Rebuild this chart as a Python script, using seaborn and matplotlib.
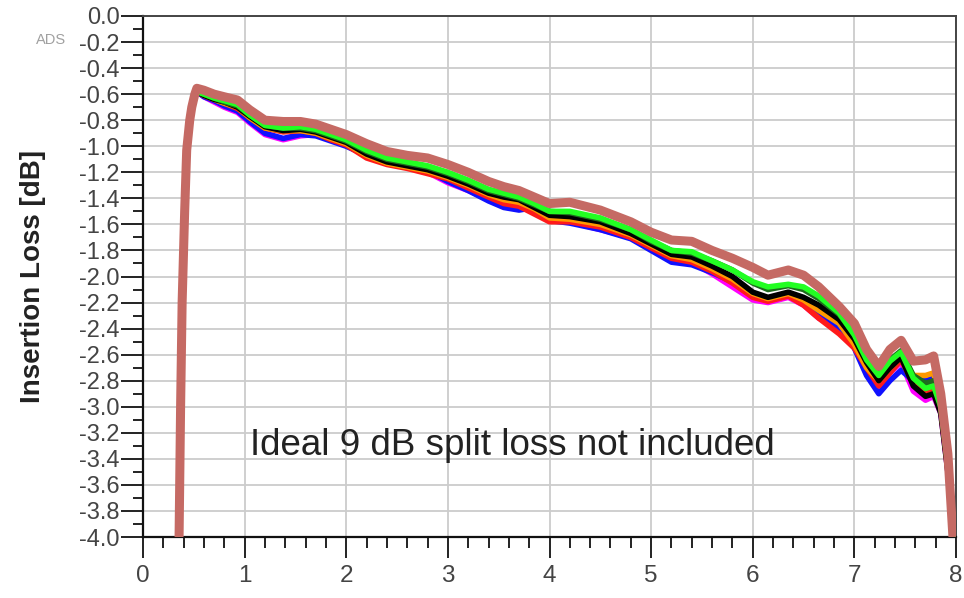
import numpy as np
import pandas as pd
import matplotlib
matplotlib.use("Agg")
import matplotlib.pyplot as plt
import seaborn as sns
from matplotlib.ticker import MultipleLocator, FixedLocator

# ---------------- data ----------------
freq = [0.355, 0.37, 0.385, 0.41, 0.43, 0.46, 0.48, 0.51, 0.53,
        0.60, 0.70, 0.80, 0.93, 1.05, 1.20, 1.38, 1.55, 1.70, 1.85, 2.00,
        2.20, 2.40, 2.60, 2.80, 3.00, 3.20, 3.40, 3.55, 3.70, 3.85,
        4.00, 4.20, 4.50, 4.80, 5.00, 5.20, 5.40, 5.60, 5.80, 6.00,
        6.15, 6.35, 6.50, 6.65, 6.85, 7.00, 7.12, 7.24, 7.35, 7.46,
        7.58, 7.70, 7.78, 7.85, 7.92, 7.97]

rise = [-4.00, -3.05, -2.25, -1.55, -1.06, -0.83, -0.72, -0.62, -0.58]

magenta = rise + [-0.62, -0.66, -0.70, -0.74, -0.82, -0.91, -0.95, -0.92, -0.91, -0.95, -0.99,
                  -1.07, -1.12, -1.16, -1.20, -1.28, -1.34, -1.41, -1.46, -1.48, -1.46,
                  -1.56, -1.58, -1.64, -1.70, -1.79, -1.88, -1.89, -1.98, -2.08, -2.18,
                  -2.20, -2.16, -2.22, -2.32, -2.40, -2.54, -2.74, -2.86, -2.74, -2.66,
                  -2.88, -2.95, -2.92, -3.05, -3.50, -4.00]
blue = rise + [-0.62, -0.65, -0.69, -0.73, -0.81, -0.90, -0.94, -0.91, -0.92, -0.96, -1.00,
               -1.07, -1.12, -1.15, -1.19, -1.27, -1.34, -1.42, -1.47, -1.49, -1.47,
               -1.57, -1.59, -1.64, -1.71, -1.80, -1.89, -1.91, -1.97, -2.04, -2.15,
               -2.18, -2.14, -2.20, -2.30, -2.40, -2.55, -2.76, -2.90, -2.80, -2.72,
               -2.80, -2.80, -2.78, -2.98, -3.45, -4.00]
red = rise + [-0.61, -0.64, -0.67, -0.71, -0.78, -0.86, -0.89, -0.88, -0.90, -0.95, -0.99,
              -1.09, -1.14, -1.17, -1.21, -1.25, -1.32, -1.39, -1.44, -1.46, -1.52,
              -1.58, -1.58, -1.62, -1.70, -1.78, -1.86, -1.89, -1.96, -2.05, -2.16,
              -2.19, -2.15, -2.22, -2.32, -2.44, -2.55, -2.70, -2.84, -2.74, -2.64,
              -2.82, -2.88, -2.86, -3.02, -3.48, -4.00]
orange = rise + [-0.61, -0.64, -0.67, -0.70, -0.78, -0.86, -0.88, -0.88, -0.90, -0.94, -0.98,
                 -1.07, -1.13, -1.16, -1.19, -1.24, -1.30, -1.37, -1.41, -1.43, -1.48,
                 -1.55, -1.56, -1.60, -1.68, -1.76, -1.84, -1.87, -1.94, -2.02, -2.13,
                 -2.17, -2.13, -2.18, -2.26, -2.36, -2.52, -2.70, -2.80, -2.70, -2.62,
                 -2.76, -2.76, -2.74, -2.98, -3.48, -4.00]
black = rise + [-0.61, -0.64, -0.66, -0.70, -0.77, -0.85, -0.88, -0.87, -0.89, -0.93, -0.97,
                -1.06, -1.12, -1.15, -1.18, -1.23, -1.29, -1.36, -1.39, -1.41, -1.47,
                -1.53, -1.54, -1.58, -1.67, -1.75, -1.83, -1.85, -1.92, -2.00, -2.12,
                -2.16, -2.12, -2.16, -2.22, -2.33, -2.48, -2.66, -2.80, -2.70, -2.62,
                -2.84, -2.92, -2.90, -3.05, -3.50, -4.00]
darkgreen = rise + [-0.60, -0.63, -0.66, -0.69, -0.76, -0.84, -0.86, -0.86, -0.88, -0.92, -0.96,
                    -1.04, -1.10, -1.13, -1.16, -1.21, -1.27, -1.34, -1.37, -1.40, -1.45,
                    -1.50, -1.51, -1.56, -1.64, -1.73, -1.80, -1.82, -1.88, -1.95, -2.05,
                    -2.10, -2.07, -2.10, -2.17, -2.29, -2.44, -2.62, -2.74, -2.64, -2.57,
                    -2.76, -2.82, -2.80, -2.98, -3.45, -4.00]
green = rise + [-0.60, -0.63, -0.65, -0.68, -0.76, -0.84, -0.86, -0.85, -0.87, -0.91, -0.95,
                -1.03, -1.09, -1.12, -1.15, -1.20, -1.26, -1.33, -1.36, -1.39, -1.44,
                -1.50, -1.50, -1.55, -1.64, -1.72, -1.80, -1.81, -1.88, -1.95, -2.04,
                -2.08, -2.06, -2.08, -2.15, -2.28, -2.45, -2.64, -2.76, -2.65, -2.58,
                -2.78, -2.86, -2.84, -3.00, -3.45, -4.00]
brown = [-4.00, -3.00, -2.20, -1.50, -1.03, -0.80, -0.70, -0.60, -0.555,
         -0.57, -0.60, -0.62, -0.645, -0.72, -0.80, -0.81, -0.81, -0.83, -0.87, -0.91,
         -0.98, -1.04, -1.07, -1.09, -1.14, -1.20, -1.27, -1.31, -1.34, -1.39,
         -1.44, -1.43, -1.49, -1.58, -1.66, -1.72, -1.73, -1.80, -1.86, -1.93,
         -1.99, -1.95, -1.99, -2.08, -2.23, -2.36, -2.56, -2.69, -2.56, -2.49,
         -2.65, -2.64, -2.61, -2.90, -3.36, -4.00]

series_names = ["magenta", "blue", "red", "orange", "black", "darkgreen", "green", "brown"]
series_values = [magenta, blue, red, orange, black, darkgreen, green, brown]
series_colors = ["#FF00FF", "#1010FF", "#FF1A1A", "#FF9900", "#000000", "#1E6B1E", "#22FF22", "#C56A64"]
series_widths = [4.0, 4.0, 4.0, 4.0, 4.0, 4.0, 4.0, 6.5]

x_ticks = [0, 1, 2, 3, 4, 5, 6, 7, 8]
y_ticks = [0.0, -0.2, -0.4, -0.6, -0.8, -1.0, -1.2, -1.4, -1.6, -1.8, -2.0,
           -2.2, -2.4, -2.6, -2.8, -3.0, -3.2, -3.4, -3.6, -3.8, -4.0]
y_ticklabels = ["0.0", "-0.2", "-0.4", "-0.6", "-0.8", "-1.0", "-1.2", "-1.4", "-1.6",
                "-1.8", "-2.0", "-2.2", "-2.4", "-2.6", "-2.8", "-3.0", "-3.2", "-3.4",
                "-3.6", "-3.8", "-4.0"]
y_label = "Insertion Loss [dB]"
note = "Ideal 9 dB split loss not included"

# ---------------- plot ----------------
sns.set_theme(style="white")
plt.rcParams["font.family"] = ["Liberation Sans", "DejaVu Sans"]

fig = plt.figure(figsize=(9.64, 5.98), dpi=100)
ax = fig.add_axes([143 / 964, 1 - 537 / 598, (956 - 143) / 964, (537 - 16) / 598])

df = pd.concat([pd.DataFrame({"freq": freq, "loss": v, "trace": n})
                for n, v in zip(series_names, series_values)], ignore_index=True)

for n, c, w in zip(series_names, series_colors, series_widths):
    sub = df[df["trace"] == n]
    sns.lineplot(data=sub, x="freq", y="loss", color=c, linewidth=w,
                 estimator=None, sort=False, ax=ax, legend=False,
                 solid_joinstyle="round", solid_capstyle="butt", zorder=3)

ax.set_xlim(0, 8)
ax.set_ylim(-4.0, 0.0)
ax.xaxis.set_major_locator(FixedLocator(x_ticks))
ax.xaxis.set_minor_locator(MultipleLocator(0.2))
ax.yaxis.set_major_locator(FixedLocator(y_ticks))
ax.set_yticklabels(y_ticklabels)
ax.yaxis.set_minor_locator(MultipleLocator(0.1))

ax.grid(True, which="major", color="#cccccc", linewidth=1.3, zorder=0)
ax.set_axisbelow(True)

for side in ["left", "bottom"]:
    ax.spines[side].set_color("#111111")
    ax.spines[side].set_linewidth(1.6)
for side in ["top", "right"]:
    ax.spines[side].set_color("#444444")
    ax.spines[side].set_linewidth(1.4)

ax.tick_params(axis="y", which="major", direction="out", length=16, width=1.4,
               color="#222222", pad=1, labelsize=17, labelcolor="#444444", left=True)
ax.tick_params(axis="y", which="minor", direction="out", length=7, width=1.4,
               color="#222222", left=True)
ax.tick_params(axis="x", which="major", direction="out", length=15, width=1.4,
               color="#222222", pad=5, labelsize=17.5, labelcolor="#444444", bottom=True)
ax.tick_params(axis="x", which="minor", direction="out", length=8, width=1.4,
               color="#222222", bottom=True)

ax.set_xlabel("")
ax.set_ylabel(y_label, fontsize=20, fontweight="bold", color="#222222")
ax.yaxis.set_label_coords(-0.119, 0.5)

ax.text(1.05, -3.30, note, fontsize=26.5, color="#222222", ha="left", va="center", zorder=5)
fig.text(36 / 964, 1 - 40 / 598, "ADS", fontsize=10.5, color="#a0a0a0", ha="left", va="center")

fig.savefig("out.png", dpi=100)
